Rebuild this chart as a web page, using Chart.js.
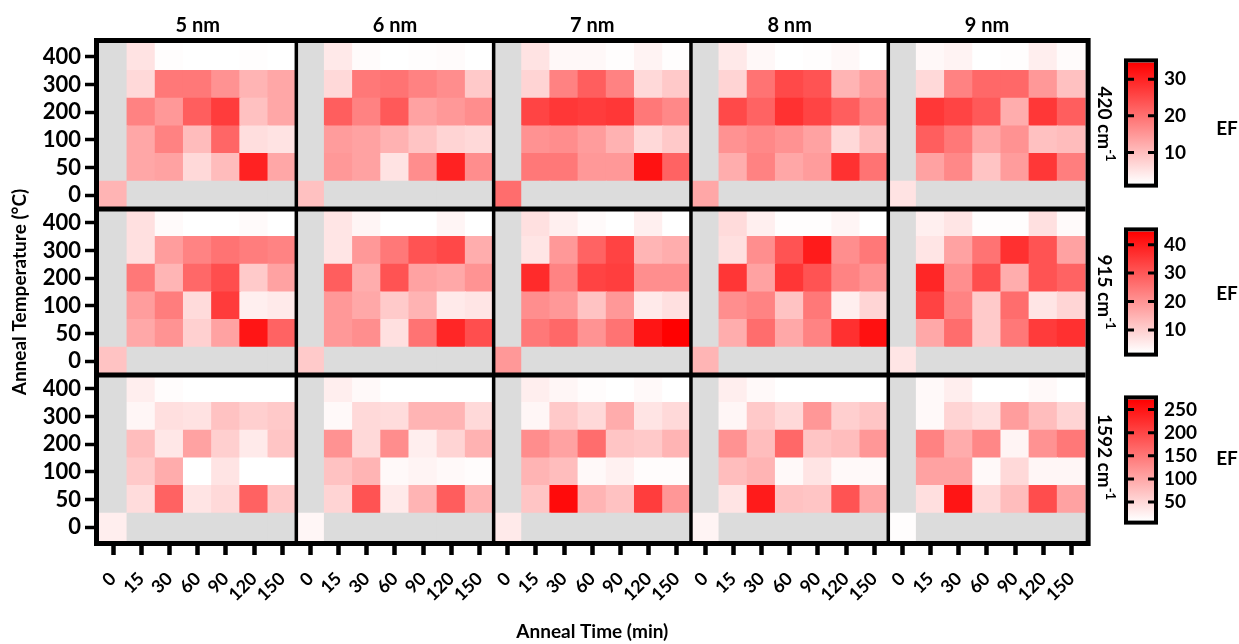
<!DOCTYPE html>
<html><head><meta charset="utf-8">
<script src="https://cdn.jsdelivr.net/npm/chart.js@4.4.1/dist/chart.umd.min.js"></script>
<style>
html,body{margin:0;padding:0;background:#fff;width:1239px;height:644px;overflow:hidden;}
.box{position:absolute;}
.rowlab{position:absolute;font-family:Lato,sans-serif;font-weight:bold;font-size:19px;color:#000;transform:translate(-50%,-50%) rotate(90deg);white-space:nowrap;line-height:1;}
.rowlab sup{font-size:13px;position:relative;top:-2px;vertical-align:top;}
.ef{position:absolute;font-family:Lato,sans-serif;font-weight:bold;font-size:19px;color:#000;transform:translate(-50%,-50%);line-height:1;}
</style></head><body>
<div class="box" style="left:0;top:0;width:1100px;height:644px"><canvas id="main"></canvas></div>
<div class="box" style="left:1100px;top:41px;width:139px;height:164px"><canvas id="cb0"></canvas></div>
<div class="box" style="left:1100px;top:210px;width:139px;height:164px"><canvas id="cb1"></canvas></div>
<div class="box" style="left:1100px;top:378px;width:139px;height:164px"><canvas id="cb2"></canvas></div>
<div class="rowlab" style="left:1105px;top:124px">420 cm<sup>-1</sup></div>
<div class="rowlab" style="left:1105px;top:292px">915 cm<sup>-1</sup></div>
<div class="rowlab" style="left:1105px;top:457px">1592 cm<sup>-1</sup></div>
<div class="ef" style="left:1227px;top:127px">EF</div>
<div class="ef" style="left:1227px;top:292px">EF</div>
<div class="ef" style="left:1227px;top:457px">EF</div>
<script>
// ---- categories ----
const sizes = ['5 nm', '6 nm', '7 nm', '8 nm', '9 nm'];
const times = ['0', '15', '30', '60', '90', '120', '150'];
const temps = ['0', '50', '100', '200', '300', '400'];
const modes = ['420', '915', '1592'];

// ---- EF values: rows = anneal temp 50,100,200,300,400 ; cols = anneal time 15..150 ----
// 420 cm-1
const ef420_5nm = [[12.9,13.6,6.4,10.2,30.2,12.9],[12.9,17.7,10.2,21.4,5.8,5.1],[17.7,14.9,22.4,26.8,9.5,12.9],[6.4,19,19,15.6,11.2,12.9],[5.1,1.7,1,1.3,1.7,1]];
const ef420_6nm = [[14.9,13.6,5.1,16.3,30.2,16.3],[14.3,13.6,11.5,9.2,7.1,6.4],[22.4,17.7,23.1,13.6,14.9,16.3],[6.4,19,19.7,17.7,16.3,8.5],[4.4,2,1,1.7,2,1]];
const ef420_7nm = [[19,19,14.9,14.9,32.3,21.7],[15.6,16.3,14.3,11.5,6.4,8.5],[25.8,27.5,26.8,27.5,19,17],[7.1,17.7,22.4,17.7,6.4,8.5],[5.1,2.4,2.4,1.7,3,1.7]];
const ef420_8nm = [[12.2,17.7,12.9,14.3,28.2,19.7],[15.6,17,15.6,13.6,6.4,10.2],[25.1,21.7,28.2,25.8,22.4,17.7],[7.1,19.7,25.1,23.8,11.2,14.3],[4.4,2.4,1.3,1.7,2.4,1]];
const ef420_9nm = [[13.6,17,9.2,14.3,27.5,18.3],[22.4,19,12.9,15.6,9.5,10.2],[27.5,25.8,23.1,12.2,27.5,22.4],[6.4,17.7,21.1,21.1,14.9,9.5],[2.4,3,1.3,1.7,3.7,2]];
const ef420_unannealed = [11.2, 9.5, 20.4, 12.9, 5.1];
// 915 cm-1
const ef915_5nm = [[16.6,20.1,9.9,17.5,41.1,28.1],[18.4,23.7,8.1,34.8,4.6,5.5],[24.6,14.4,27.3,31.7,10.8,17.5],[7.2,18.4,22.8,25.5,23.7,22.8],[7.2,2.8,1,1.4,2.8,1]];
const ef915_6nm = [[19.2,21,7.2,25.5,38.4,31.7],[19.2,16.6,10.8,14.8,5.5,6.3],[29,15.7,30.8,17.5,16.6,20.1],[6.3,19.2,24.6,30.8,32.6,15.7],[6.3,3.7,1,1.4,3.7,1]];
const ef915_7nm = [[24.6,27.3,20.1,25.5,41.1,44.6],[21,19.2,12.1,19.2,5.5,7.2],[37.5,22.8,33.5,34.4,21,21],[6.3,19.2,28.1,33.5,14.4,15.7],[7.2,4.6,2.8,1.9,4.6,1.9]];
const ef915_8nm = [[15.7,26.4,16.6,22.8,36.6,41.9],[21,22.8,12.1,24.6,4.6,9],[35.7,17.5,35.7,30.8,22.8,20.1],[7.2,21,30.8,40.2,21,24.6],[8.1,4.6,2.3,2.3,3.7,1.4]];
const ef915_9nm = [[16.6,26.4,10.8,24.6,34.8,36.6],[33.5,22.8,10.8,26.4,6.3,9],[38.4,21,31.7,15.7,30.8,28.1],[6.3,17.5,25.5,36.6,30.8,17.5],[4.6,6.3,2.3,2.3,7.2,2.8]];
const ef915_unannealed = [12.1, 10.8, 19.2, 14.4, 6.3];
// 1592 cm-1
const ef1592_5nm = [[46,171,38,49,171,65],[65,95,10,38,8,10],[78,35,106,59,32,70],[19,43,40,73,59,65],[27,13,5,5,8,5]];
const ef1592_6nm = [[54,187,32,87,176,87],[73,87,16,21,16,13],[122,49,127,27,54,89],[16,49,46,87,87,49],[27,16,5,8,8,5]];
const ef1592_7nm = [[70,261,87,73,209,117],[87,78,16,24,13,13],[127,106,160,70,65,87],[19,65,49,95,38,49],[27,19,13,5,16,10]];
const ef1592_8nm = [[38,244,73,70,187,101],[78,87,16,38,16,16],[122,78,165,70,78,117],[19,65,49,117,59,70],[27,16,8,8,10,8]];
const ef1592_9nm = [[43,250,49,78,193,106],[106,106,16,49,19,19],[138,95,133,21,122,149],[16,54,43,111,78,54],[16,27,8,8,16,10]];
const ef1592_unannealed = [27, 19, 32, 21, 12];

// ---- colour-scale ranges and colourbar tick labels ----
const range420 = [1.5, 34.6];
const range915 = [2, 44.7];
const range1592 = [10, 272];
const cbTicks420 = [10, 20, 30];
const cbTicks915 = [10, 20, 30, 40];
const cbTicks1592 = [50, 100, 150, 200, 250];

const grids = [
  [ef420_5nm, ef420_6nm, ef420_7nm, ef420_8nm, ef420_9nm],
  [ef915_5nm, ef915_6nm, ef915_7nm, ef915_8nm, ef915_9nm],
  [ef1592_5nm, ef1592_6nm, ef1592_7nm, ef1592_8nm, ef1592_9nm]
];
const unannealed = [ef420_unannealed, ef915_unannealed, ef1592_unannealed];
const ranges = [range420, range915, range1592];
const cbTicks = [cbTicks420, cbTicks915, cbTicks1592];

const GRAY = '#dcdcdc';
const FONT = 'Lato, "Open Sans", sans-serif';
function heat(v, r) {
  let t = (v - r[0]) / (r[1] - r[0]);
  t = Math.max(0, Math.min(1, t));
  const g = Math.round(255 * (1 - t));
  return 'rgb(255,' + g + ',' + g + ')';
}

function build() {
  const xLabels = [];
  sizes.forEach(() => times.forEach(t => xLabels.push(t)));

  const datasets = [];
  for (let m = 0; m < 3; m++) {
    for (let k = 0; k < temps.length; k++) {
      const base = (2 - m) * temps.length + k;
      const data = [], colors = [];
      for (let p = 0; p < sizes.length; p++) {
        for (let j = 0; j < times.length; j++) {
          let v = null;
          if (k === 0 && j === 0) v = unannealed[m][p];
          else if (k > 0 && j > 0) v = grids[m][p][k - 1][j - 1];
          data.push([base, base + 1]);
          colors.push(v === null ? GRAY : heat(v, ranges[m]));
        }
      }
      datasets.push({
        label: modes[m] + ' / ' + temps[k],
        data, backgroundColor: colors, borderWidth: 0,
        barPercentage: 1, categoryPercentage: 1, grouped: false, inflateAmount: 0.6
      });
    }
  }

  const frame = {
    id: 'frame',
    afterDraw(c) {
      const { ctx, chartArea: a, scales } = c;
      const x = scales.x, y = scales.y;
      ctx.save();
      ctx.strokeStyle = '#000';
      ctx.lineWidth = 3.5;
      for (let p = 1; p < sizes.length; p++) {
        const xx = (x.getPixelForValue(times.length * p - 1) + x.getPixelForValue(times.length * p)) / 2;
        ctx.beginPath(); ctx.moveTo(xx, a.top); ctx.lineTo(xx, a.bottom); ctx.stroke();
      }
      ctx.lineWidth = 5;
      for (let r = 1; r < 3; r++) {
        const yy = y.getPixelForValue(temps.length * r);
        ctx.beginPath(); ctx.moveTo(a.left, yy); ctx.lineTo(a.right, yy); ctx.stroke();
      }
      ctx.strokeRect(a.left - 2.5, a.top - 2.5, a.right - a.left + 5, a.bottom - a.top + 5);
      ctx.restore();
    }
  };

  const centers = [];
  for (let i = 0; i < 3 * temps.length; i++) centers.push(i + 0.5);

  new Chart(document.getElementById('main'), {
    type: 'bar',
    data: { labels: xLabels, datasets },
    options: {
      responsive: true, maintainAspectRatio: false, animation: false,
      layout: { padding: { left: 0, right: 13, top: 0, bottom: 0 } },
      plugins: { legend: { display: false }, tooltip: { enabled: false } },
      scales: {
        x: {
          type: 'category', position: 'bottom', offset: true,
          grid: { offset: false, drawOnChartArea: false, tickLength: 14, tickWidth: 4.5, tickColor: '#000' },
          border: { display: false },
          ticks: { autoSkip: false, minRotation: 45, maxRotation: 45, color: '#000', padding: 13,
                   font: { family: FONT, size: 18, weight: 'bold' } },
          title: { display: true, text: 'Anneal Time (min)', color: '#000', padding: { top: 1, bottom: 1 },
                   font: { family: FONT, size: 19, weight: 'bold' } },
          afterFit: s => { s.height = 103; }
        },
        x2: {
          type: 'category', position: 'top', labels: sizes, offset: true,
          grid: { display: false, drawTicks: false }, border: { display: false },
          ticks: { color: '#000', padding: 5, font: { family: FONT, size: 20, weight: 'bold' } },
          afterFit: s => { s.height = 43; }
        },
        y: {
          type: 'linear', min: 0, max: 3 * temps.length,
          afterBuildTicks: s => { s.ticks = centers.map(v => ({ value: v })); },
          grid: { drawOnChartArea: false, tickLength: 14, tickWidth: 3.5, tickColor: '#000' },
          border: { display: false },
          ticks: { autoSkip: false, color: '#000', padding: 4,
                   font: { family: FONT, size: 22, weight: 'bold' },
                   callback: v => temps[Math.floor(v) % temps.length] },
          title: { display: true, text: 'Anneal Temperature (°C)', color: '#000', padding: { top: 8, bottom: 8 },
                   font: { family: FONT, size: 19, weight: 'bold' } },
          afterFit: s => { s.width = 99; }
        }
      }
    },
    plugins: [frame]
  });

  const cbFrame = {
    id: 'cbFrame',
    afterDraw(c) {
      const { ctx, chartArea: a, scales: { y } } = c;
      ctx.save();
      ctx.strokeStyle = '#000';
      ctx.lineWidth = 3;
      y.ticks.forEach(t => {
        const yy = y.getPixelForValue(t.value);
        ctx.beginPath();
        ctx.moveTo(a.left - 2, yy); ctx.lineTo(a.left + 6, yy);
        ctx.moveTo(a.right - 6, yy); ctx.lineTo(a.right + 2, yy);
        ctx.stroke();
      });
      ctx.lineWidth = 4;
      ctx.strokeRect(a.left - 2, a.top - 2, a.right - a.left + 4, a.bottom - a.top + 4);
      ctx.restore();
    }
  };

  for (let m = 0; m < 3; m++) {
    const lo = ranges[m][0], hi = ranges[m][1];
    new Chart(document.getElementById('cb' + m), {
      type: 'bar',
      data: { labels: ['EF'], datasets: [{
        data: [[lo, hi]], borderWidth: 0, barPercentage: 1, categoryPercentage: 1,
        backgroundColor: ctx => {
          const a = ctx.chart.chartArea;
          if (!a) return '#f88';
          const g = ctx.chart.ctx.createLinearGradient(0, a.bottom, 0, a.top);
          g.addColorStop(0, heat(lo, ranges[m]));
          g.addColorStop(1, heat(hi, ranges[m]));
          return g;
        }
      }] },
      options: {
        responsive: true, maintainAspectRatio: false, animation: false,
        layout: { padding: { left: 28, right: 0, top: 10, bottom: 10 } },
        plugins: { legend: { display: false }, tooltip: { enabled: false } },
        scales: {
          x: { display: false },
          y: {
            position: 'right', min: lo, max: hi,
            afterBuildTicks: s => { s.ticks = cbTicks[m].map(v => ({ value: v })); },
            grid: { display: false, drawTicks: false }, border: { display: false },
            ticks: { color: '#000', padding: 10, font: { family: FONT, size: 19, weight: 'bold' } },
            afterFit: s => { s.width = 85; }
          }
        }
      },
      plugins: [cbFrame]
    });
  }
}

const ready = (document.fonts && document.fonts.load)
  ? Promise.all([document.fonts.load('bold 20px Lato'), document.fonts.load('20px Lato')]).catch(() => {})
  : Promise.resolve();
ready.then(build);
</script>
</body></html>
